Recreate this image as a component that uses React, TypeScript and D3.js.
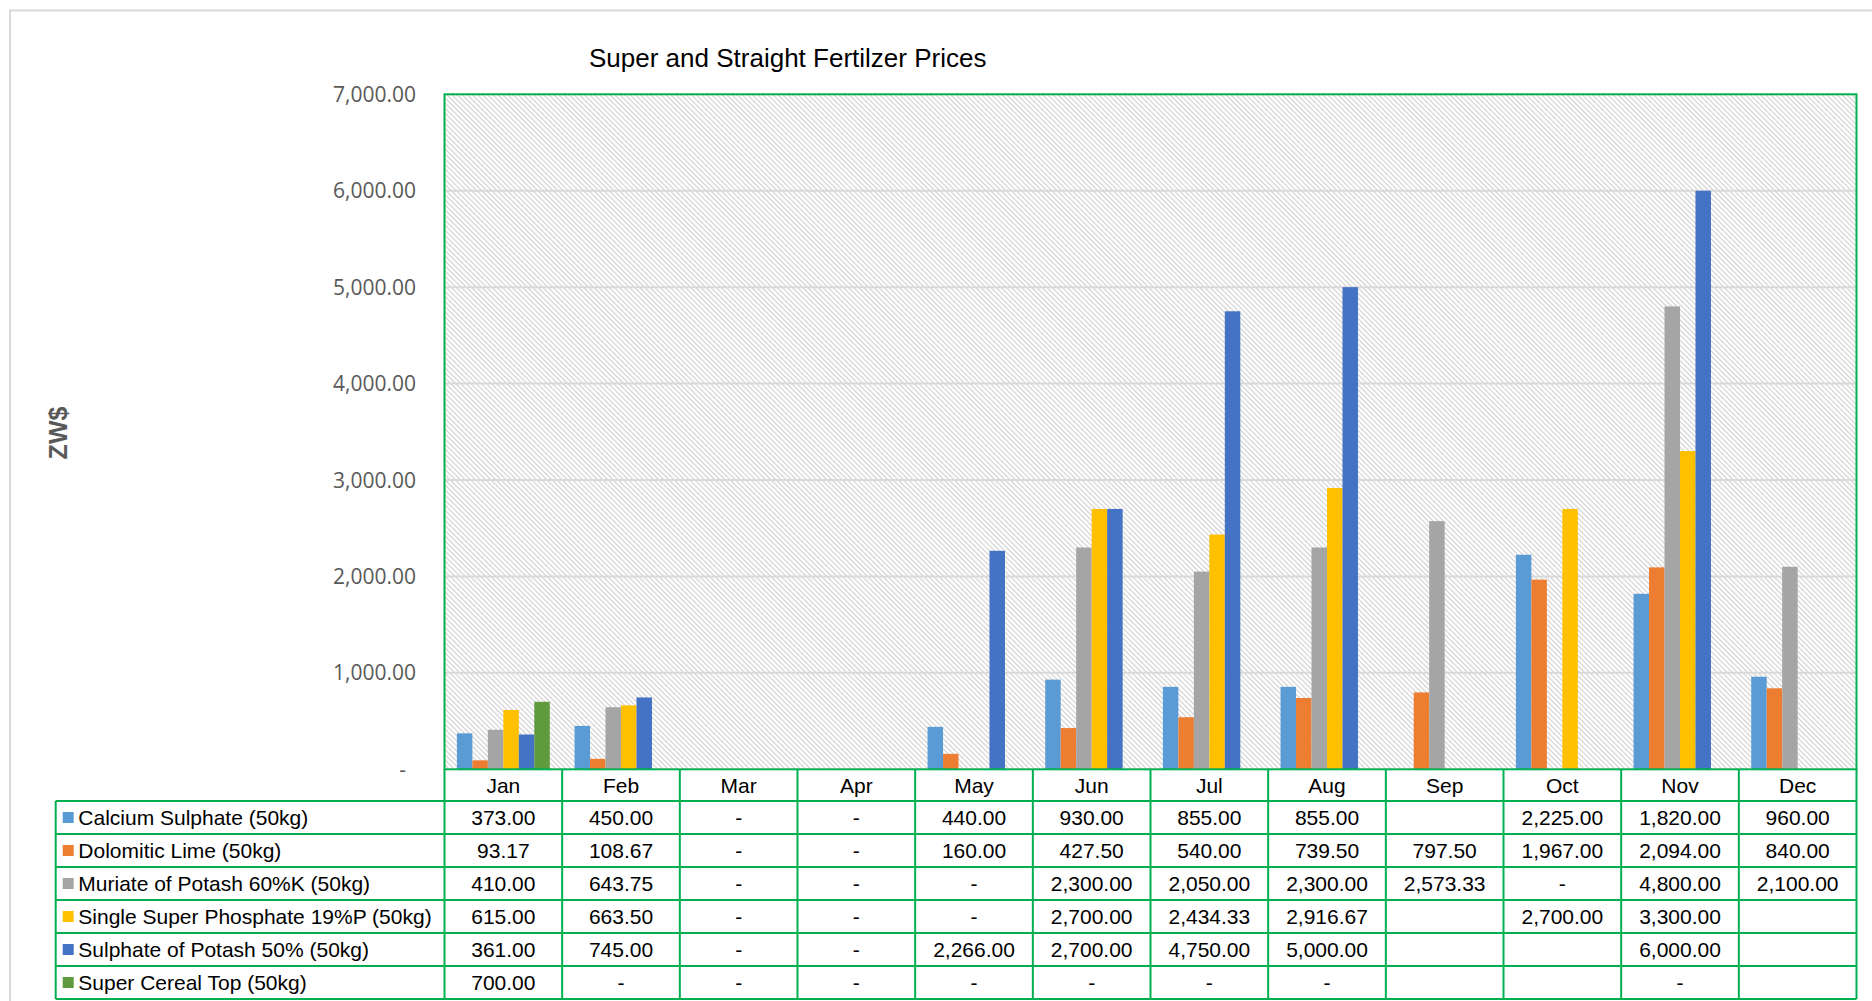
import React from 'react';
import * as d3 from 'd3';

type Cell = number | '-' | null;

const months = ['Jan', 'Feb', 'Mar', 'Apr', 'May', 'Jun', 'Jul', 'Aug', 'Sep', 'Oct', 'Nov', 'Dec'];

const seriesNames = [
  'Calcium Sulphate (50kg)',
  'Dolomitic Lime (50kg)',
  'Muriate of Potash 60%K (50kg)',
  'Single Super Phosphate 19%P (50kg)',
  'Sulphate of Potash 50% (50kg)',
  'Super Cereal Top (50kg)',
];

const calciumSulphate: Cell[] = [373, 450, '-', '-', 440, 930, 855, 855, null, 2225, 1820, 960];
const dolomiticLime: Cell[] = [93.17, 108.67, '-', '-', 160, 427.5, 540, 739.5, 797.5, 1967, 2094, 840];
const muriateOfPotash: Cell[] = [410, 643.75, '-', '-', '-', 2300, 2050, 2300, 2573.33, '-', 4800, 2100];
const singleSuperPhosphate: Cell[] = [615, 663.5, '-', '-', '-', 2700, 2434.33, 2916.67, null, 2700, 3300, null];
const sulphateOfPotash: Cell[] = [361, 745, '-', '-', 2266, 2700, 4750, 5000, null, null, 6000, null];
const superCerealTop: Cell[] = [700, '-', '-', '-', '-', '-', '-', '-', null, null, '-', null];

const seriesValues: Cell[][] = [
  calciumSulphate,
  dolomiticLime,
  muriateOfPotash,
  singleSuperPhosphate,
  sulphateOfPotash,
  superCerealTop,
];

const colors = ['#5B9BD5', '#ED7D31', '#A5A5A5', '#FFC000', '#4472C4', '#5F9A3E'];

const yTicks = [0, 1000, 2000, 3000, 4000, 5000, 6000, 7000];

const title = 'Super and Straight Fertilzer Prices';
const yTitle = 'ZW$';

const FONT = '"Liberation Sans", Arial, sans-serif';
const TICK_FONT = '"Open Sans", "Liberation Sans", sans-serif';
const GREEN = '#00B050';

export default function App() {
  const W = 1872;
  const H = 1001;
  const plotLeft = 444.5;
  const plotRight = 1856.5;
  const plotTop = 94.3;
  const plotBottom = 769.3;
  const legendLeft = 55.7;
  const rowH = 33;
  const headerBottom = 801;

  const x = d3.scaleBand<string>().domain(months).range([plotLeft, plotRight]).paddingInner(0).paddingOuter(0);
  const bw = x.bandwidth();
  const gapRatio = 1.6;
  const barW = bw / (seriesNames.length + gapRatio);
  const xs = d3
    .scaleBand<number>()
    .domain(d3.range(seriesNames.length))
    .range([barW * gapRatio / 2, bw - barW * gapRatio / 2])
    .padding(0);
  const y = d3.scaleLinear().domain([0, 7000]).range([plotBottom, plotTop]);
  const fmt = d3.format(',.2f');

  const rowY = (i: number) => headerBottom + i * rowH;
  const tableBottom = rowY(seriesNames.length);

  return (
    <div style={{ position: 'absolute', left: 0, top: 0 }}>
      <svg width={W} height={H} style={{ display: 'block', fontFamily: FONT }}>
        <defs>
          <pattern id="hatch" patternUnits="userSpaceOnUse" width={3.6} height={3.6} patternTransform="rotate(-45)">
            <rect width={3.6} height={3.6} fill="#ffffff" />
            <line x1={0.6} y1={0} x2={0.6} y2={3.6} stroke="#d0d0d0" strokeWidth={1.15} />
          </pattern>
        </defs>
        <rect x={0} y={0} width={W} height={H} fill="#ffffff" />
        {/* outer chart border */}
        <rect x={10} y={10.5} width={W + 20} height={H + 20} fill="none" stroke="#D9D9D9" strokeWidth={2} />

        {/* title */}
        <text x={589} y={67.3} fontSize={26} fill="#000">
          {title}
        </text>

        {/* plot area */}
        <rect x={plotLeft} y={plotTop} width={plotRight - plotLeft} height={plotBottom - plotTop} fill="url(#hatch)" />
        {yTicks
          .filter((t) => t > 0 && t < 7000)
          .map((t) => (
            <line key={t} x1={plotLeft} x2={plotRight} y1={y(t)} y2={y(t)} stroke="#D9D9D9" strokeWidth={2} />
          ))}

        {/* bars */}
        {seriesValues.map((vals, si) =>
          vals.map((v, mi) =>
            typeof v === 'number' ? (
              <rect
                key={`${si}-${mi}`}
                x={(x(months[mi]) as number) + (xs(si) as number)}
                y={y(v)}
                width={xs.bandwidth()}
                height={y(0) - y(v)}
                fill={colors[si]}
              />
            ) : null
          )
        )}

        {/* y tick labels */}
        {yTicks.map((t) => (
          <text
            key={t}
            x={t === 0 ? 406 : 416}
            y={y(t) + 7.5}
            textAnchor="end"
            fontSize={21}
            fontFamily={TICK_FONT}
            fill="#595959"
          >
            {t === 0 ? '-' : fmt(t)}
          </text>
        ))}

        {/* y axis title */}
        <text
          transform={`translate(${67},${433}) rotate(-90)`}
          textAnchor="middle"
          fontSize={25}
          fontWeight="bold"
          fill="#595959"
        >
          {yTitle}
        </text>

        {/* data table: header */}
        {months.map((m) => (
          <text
            key={m}
            x={(x(m) as number) + bw / 2}
            y={792.7}
            textAnchor="middle"
            fontSize={21}
            fill="#000"
          >
            {m}
          </text>
        ))}

        {/* data table: rows */}
        {seriesNames.map((name, si) => (
          <g key={name}>
            <rect x={62.7} y={rowY(si) + rowH / 2 - 5.5} width={11} height={11} fill={colors[si]} />
            <text x={78.3} y={rowY(si) + rowH / 2 + 7.5} fontSize={21} fill="#000">
              {name}
            </text>
            {seriesValues[si].map((v, mi) =>
              v === null ? null : (
                <text
                  key={mi}
                  x={(x(months[mi]) as number) + bw / 2}
                  y={rowY(si) + rowH / 2 + 7.5}
                  textAnchor="middle"
                  fontSize={21}
                  fill="#000"
                >
                  {typeof v === 'number' ? fmt(v) : '-'}
                </text>
              )
            )}
          </g>
        ))}

        {/* table grid */}
        {d3.range(seriesNames.length + 1).map((i) => (
          <line
            key={`h${i}`}
            x1={legendLeft}
            x2={plotRight}
            y1={rowY(i)}
            y2={rowY(i)}
            stroke={GREEN}
            strokeWidth={2}
          />
        ))}
        <line x1={legendLeft} x2={legendLeft} y1={headerBottom} y2={tableBottom} stroke={GREEN} strokeWidth={2} />
        {months.map((m, i) =>
          i === 0 ? null : (
            <line
              key={`v${m}`}
              x1={x(m) as number}
              x2={x(m) as number}
              y1={plotBottom}
              y2={tableBottom}
              stroke={GREEN}
              strokeWidth={2}
            />
          )
        )}
        <line x1={plotLeft} x2={plotLeft} y1={plotBottom} y2={tableBottom} stroke={GREEN} strokeWidth={2} />
        <line x1={plotRight} x2={plotRight} y1={plotBottom} y2={tableBottom} stroke={GREEN} strokeWidth={2} />

        {/* plot border */}
        <rect
          x={plotLeft}
          y={plotTop}
          width={plotRight - plotLeft}
          height={plotBottom - plotTop}
          fill="none"
          stroke={GREEN}
          strokeWidth={2}
        />
      </svg>
    </div>
  );
}
